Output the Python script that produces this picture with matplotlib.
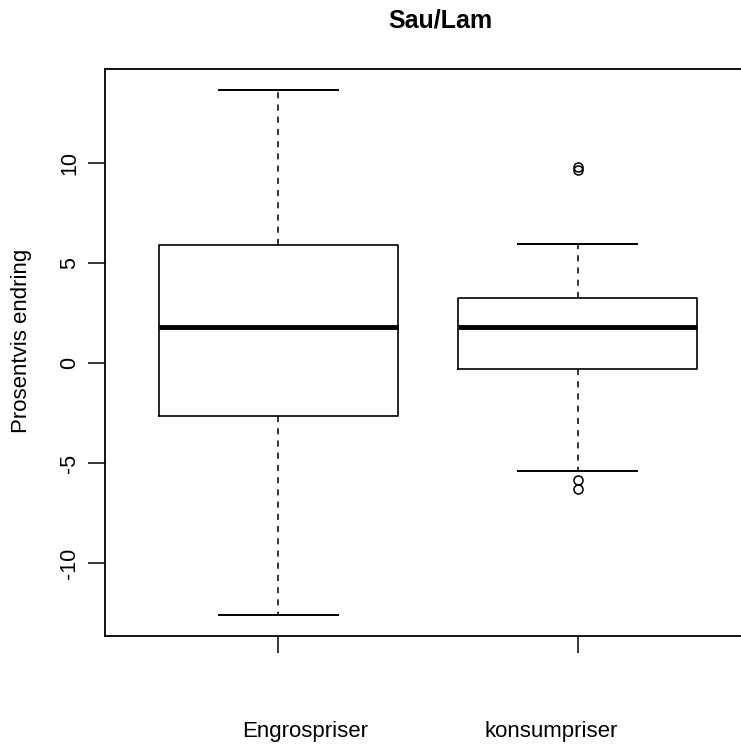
import matplotlib
matplotlib.use("Agg")
import matplotlib.pyplot as plt

plt.rcParams['font.family'] = ['Liberation Sans', 'DejaVu Sans']

categories = ["Engrospriser", "konsumpriser"]
whislo = [-12.6, -5.4]
q1 = [-2.65, -0.3]
medians = [1.8, 1.8]
q3 = [5.9, 3.25]
whishi = [13.65, 5.95]
outliers = [[], [9.8, 9.65, -5.85, -6.3]]
title = "Sau/Lam"
ylabel = "Prosentvis endring"
yticks = [-10, -5, 0, 5, 10]

W, H = 741, 746
fig = plt.figure(figsize=(W / 100, H / 100), dpi=100)
ax = fig.add_axes([105 / W, 1 - 636 / H, (751 - 105) / W, (636 - 69) / H])

stats = []
for i in range(len(categories)):
    stats.append(dict(med=medians[i], q1=q1[i], q3=q3[i], whislo=whislo[i],
                      whishi=whishi[i], fliers=outliers[i], label=categories[i]))

ax.bxp(stats, positions=[1, 2], widths=0.8, showfliers=True,
       boxprops=dict(color='black', linewidth=1.2),
       medianprops=dict(color='black', linewidth=3.5, solid_capstyle='butt'),
       whiskerprops=dict(color='black', linewidth=1.1, linestyle=(0, (4, 4))),
       capprops=dict(color='black', linewidth=1.4),
       capwidths=0.4,
       flierprops=dict(marker='o', markersize=6.5, markerfacecolor='none',
                       markeredgecolor='black', markeredgewidth=1.1))

ax.set_xlim(0.42, 2.58)
ax.set_ylim(-13.65, 14.7)
ax.set_yticks(yticks)
ax.set_yticklabels([str(t) for t in yticks], rotation=90, va='center', fontsize=15.5)
ax.set_xticks([1, 2])
ax.set_xticklabels([])
ax.tick_params(axis='both', length=12, width=1.1, direction='out', pad=6)
for sp in ax.spines.values():
    sp.set_linewidth(1.3)

fig.text(305 / W, 1 - 737 / H, categories[0], ha='center', va='baseline', fontsize=16)
fig.text(551 / W, 1 - 737 / H, categories[1], ha='center', va='baseline', fontsize=16)
fig.text(440 / W, 1 - 27.5 / H, title, ha='center', va='baseline', fontsize=18, fontweight='bold')
fig.text(22 / W, 1 - 341 / H, ylabel, ha='center', va='center', rotation=90, fontsize=16)

fig.savefig("out.png", dpi=100)
